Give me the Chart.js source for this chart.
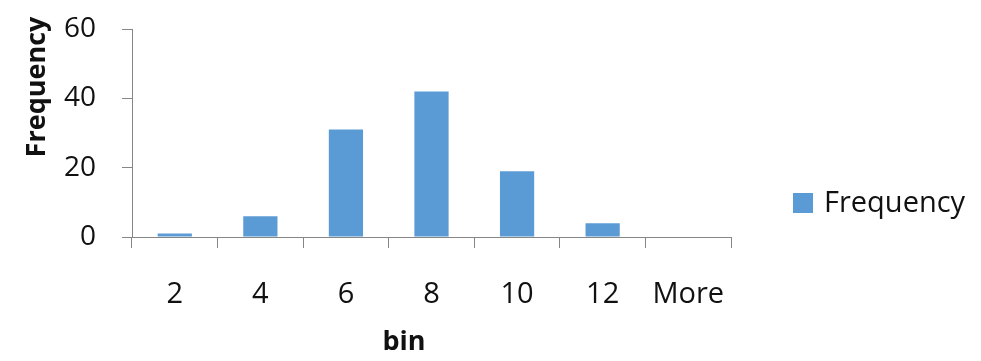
<!DOCTYPE html>
<html>
<head>
<meta charset="utf-8">
<title>Frequency by bin</title>
<script src="https://cdn.jsdelivr.net/npm/chart.js@4/dist/chart.umd.min.js"></script>
<style>
  html, body { margin: 0; padding: 0; background: #ffffff; }
  canvas { display: block; }
</style>
</head>
<body>
<canvas id="histogram" width="981" height="361"></canvas>
<script>
// Histogram data: bin upper limits and their counts
const bins = ['2', '4', '6', '8', '10', '12', 'More'];
const frequency = [1, 6, 31, 42, 19, 4, 0];
const yTicks = [0, 20, 40, 60];

const seriesName = 'Frequency';
const xTitle = 'bin';
const yTitle = 'Frequency';

const BAR_COLOR = '#5B9BD5';
const AXIS_COLOR = '#868686';
const TEXT_COLOR = '#111111';
const FONT = '"Open Sans", "Liberation Sans", sans-serif';

// Axis titles and the legend are drawn at fixed spots beside the plot
const annotations = {
  id: 'annotations',
  afterDraw(chart) {
    const ctx = chart.ctx;
    ctx.save();
    ctx.fillStyle = TEXT_COLOR;

    // y-axis title, rotated
    ctx.font = 'bold 27px ' + FONT;
    ctx.textAlign = 'center';
    ctx.textBaseline = 'middle';
    ctx.save();
    ctx.translate(37, 87);
    ctx.rotate(-Math.PI / 2);
    ctx.fillText(yTitle, 0, 0);
    ctx.restore();

    // x-axis title
    ctx.fillText(xTitle, 404, 342);

    // legend
    const ds = chart.data.datasets[0];
    ctx.fillStyle = ds.backgroundColor;
    ctx.fillRect(793, 193, 20, 20);
    ctx.fillStyle = TEXT_COLOR;
    ctx.font = '29px ' + FONT;
    ctx.textAlign = 'left';
    ctx.fillText(ds.label, 824, 204);
    ctx.restore();
  }
};

new Chart(document.getElementById('histogram'), {
  type: 'bar',
  data: {
    labels: bins,
    datasets: [{
      label: seriesName,
      data: frequency,
      backgroundColor: BAR_COLOR,
      borderWidth: 0,
      barPercentage: 0.4,
      categoryPercentage: 1.0
    }]
  },
  options: {
    responsive: false,
    devicePixelRatio: 1,
    animation: false,
    layout: { padding: { top: 29, right: 250, bottom: 0, left: 0 } },
    plugins: {
      legend: { display: false },
      tooltip: { enabled: false }
    },
    scales: {
      x: {
        offset: true,
        grid: {
          offset: true,
          drawOnChartArea: false,
          drawTicks: true,
          tickLength: 11,
          color: AXIS_COLOR,
          lineWidth: 1
        },
        border: { display: true, color: AXIS_COLOR, width: 1 },
        ticks: {
          color: TEXT_COLOR,
          font: { family: FONT, size: 29 },
          padding: 29,
          maxRotation: 0,
          autoSkip: false
        },
        afterFit(scale) {
          scale.height = 124;
          scale.paddingLeft = 0;
          scale.paddingRight = 0;
        }
      },
      y: {
        min: yTicks[0],
        max: yTicks[yTicks.length - 1],
        afterBuildTicks(scale) { scale.ticks = yTicks.map(v => ({ value: v })); },
        grid: {
          drawOnChartArea: false,
          drawTicks: true,
          tickLength: 10,
          color: AXIS_COLOR,
          lineWidth: 1
        },
        border: { display: true, color: AXIS_COLOR, width: 1 },
        ticks: {
          color: TEXT_COLOR,
          font: { family: FONT, size: 28 },
          padding: 26
        },
        afterFit(scale) {
          scale.width = 132;
          scale.paddingTop = 0;
          scale.paddingBottom = 0;
        }
      }
    }
  },
  plugins: [annotations]
});
</script>
</body>
</html>
